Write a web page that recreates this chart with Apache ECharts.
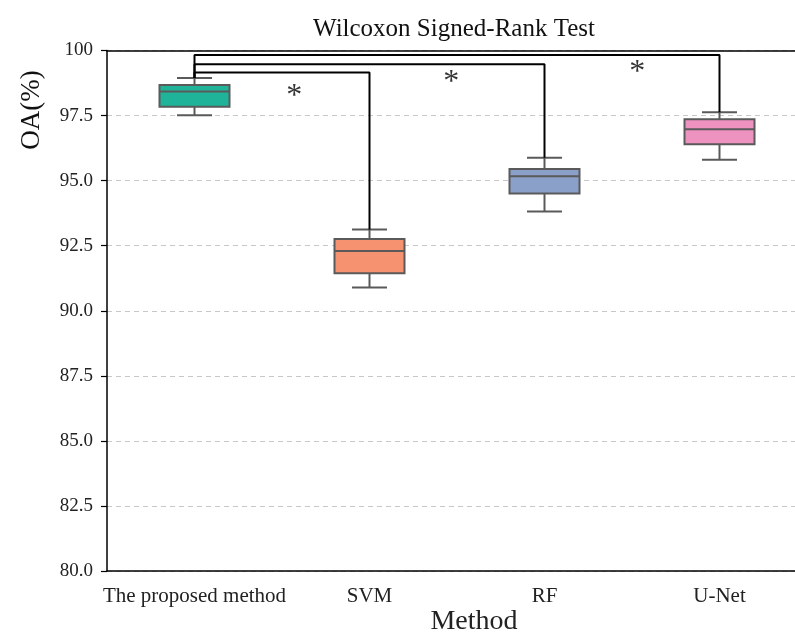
<!DOCTYPE html>
<html>
<head>
<meta charset="utf-8">
<script src="https://cdn.jsdelivr.net/npm/echarts@6/dist/echarts.min.js"></script>
<style>
  html, body { margin: 0; padding: 0; background: #fff; }
  #chart { width: 795px; height: 635px; }
</style>
</head>
<body>
<div id="chart"></div>
<script>
// Methods compared and their overall accuracy distributions (%)
const methods = ['The proposed method', 'SVM', 'RF', 'U-Net'];
const whiskerLow = [97.51, 90.89, 93.81, 95.80];
const quartile1  = [97.84, 91.44, 94.51, 96.40];
const medians    = [98.42, 92.30, 95.17, 96.97];
const quartile3  = [98.67, 92.76, 95.45, 97.36];
const whiskerHigh = [98.94, 93.12, 95.88, 97.63];
const boxColors = ['#1fb49a', '#f6926f', '#8aa0c9', '#ee92c0'];

// Significance brackets: proposed method vs. each other method
const bracketTargets = [1, 2, 3];
const bracketLevels = [99.15, 99.47, 99.83];
// Asterisk markers (category position, value)
const starX = [0.57, 1.467, 2.53];
const starY = [98.46, 98.99, 99.38];

const yTicks = { min: 80, max: 100, interval: 2.5 };
const serif = "'Liberation Serif', 'Times New Roman', serif";

const boxData = methods.map((m, i) =>
  [i, whiskerLow[i], quartile1[i], medians[i], quartile3[i], whiskerHigh[i]]);

function renderBox(params, api) {
  const i = api.value(0);
  const bw = api.size([1, 0])[0] * 0.4;
  const cx = api.coord([i, api.value(3)])[0];
  const yLow = api.coord([i, api.value(1)])[1];
  const yQ1 = api.coord([i, api.value(2)])[1];
  const yMed = api.coord([i, api.value(3)])[1];
  const yQ3 = api.coord([i, api.value(4)])[1];
  const yHigh = api.coord([i, api.value(5)])[1];
  const edge = { stroke: '#5a5a5a', lineWidth: 2 };
  const cap = bw / 4;
  return {
    type: 'group',
    children: [
      { type: 'line', shape: { x1: cx, y1: yQ3, x2: cx, y2: yHigh }, style: edge },
      { type: 'line', shape: { x1: cx, y1: yQ1, x2: cx, y2: yLow }, style: edge },
      { type: 'line', shape: { x1: cx - cap, y1: yHigh, x2: cx + cap, y2: yHigh }, style: edge },
      { type: 'line', shape: { x1: cx - cap, y1: yLow, x2: cx + cap, y2: yLow }, style: edge },
      { type: 'rect', shape: { x: cx - bw / 2, y: yQ3, width: bw, height: yQ1 - yQ3 },
        style: { fill: boxColors[i], stroke: '#5a5a5a', lineWidth: 2 } },
      { type: 'line', shape: { x1: cx - bw / 2, y1: yMed, x2: cx + bw / 2, y2: yMed }, style: edge }
    ]
  };
}

const bracketSeries = bracketTargets.map((t, k) => ({
  type: 'line',
  xAxisIndex: 1,
  symbol: 'none',
  silent: true,
  z: 5,
  lineStyle: { color: '#000', width: 2 },
  data: [[0, whiskerHigh[0]], [0, bracketLevels[k]], [t, bracketLevels[k]], [t, whiskerHigh[t]]]
}));

const chart = echarts.init(document.getElementById('chart'), null, { renderer: 'canvas' });
chart.setOption({
  backgroundColor: '#fff',
  animation: false,
  title: {
    text: 'Wilcoxon Signed-Rank Test',
    left: 449, top: 12, textAlign: 'center',
    textStyle: { fontFamily: serif, fontSize: 25, fontWeight: 'normal', color: '#111' }
  },
  grid: { left: 107, top: 50.5, width: 700, height: 520.5, outerBoundsMode: 'none', containLabel: false },
  xAxis: [
    {
      type: 'category',
      data: methods,
      boundaryGap: true,
      axisLine: { lineStyle: { color: '#000', width: 1.5 } },
      axisTick: { alignWithLabel: true, length: 6, lineStyle: { color: '#000', width: 1.2 } },
      axisLabel: { fontFamily: serif, fontSize: 21, color: '#222', margin: 15, interval: 0,
                   hideOverlap: false },
      splitLine: { show: false }
    },
    {
      type: 'value',
      position: 'top',
      min: -0.5, max: 3.5,
      axisLine: { show: true, onZero: false, lineStyle: { color: '#000', width: 1.5 } },
      axisTick: { show: false },
      axisLabel: { show: false },
      splitLine: { show: false }
    }
  ],
  yAxis: {
    type: 'value',
    min: yTicks.min, max: yTicks.max, interval: yTicks.interval,
    axisLine: { show: true, onZero: false, lineStyle: { color: '#000', width: 1.5 } },
    axisTick: { show: true, length: 6, lineStyle: { color: '#000', width: 1.2 } },
    axisLabel: {
      fontFamily: serif, fontSize: 19, color: '#222', margin: 14,
      formatter: v => (v === 100 ? '100' : v.toFixed(1))
    },
    splitLine: { show: true, lineStyle: { color: '#c8c8c8', type: [5, 4], width: 1 } }
  },
  graphic: [
    { type: 'text', x: 32, y: 110, rotation: Math.PI / 2,
      style: { text: 'OA(%)', font: '27px ' + serif, fill: '#111',
               textAlign: 'center', textVerticalAlign: 'middle' } },
    { type: 'text', x: 474, y: 622,
      style: { text: 'Method', font: '28px ' + serif, fill: '#222',
               textAlign: 'center', textVerticalAlign: 'middle' } }
  ],
  series: [
    { type: 'custom', xAxisIndex: 0, renderItem: renderBox, data: boxData, z: 3,
      encode: { x: 0, y: [1, 2, 3, 4, 5] } },
    ...bracketSeries,
    {
      type: 'scatter', xAxisIndex: 1, symbolSize: 1, itemStyle: { color: 'rgba(0,0,0,0)' },
      z: 6,
      data: starX.map((x, i) => [x, starY[i]]),
      label: { show: true, formatter: '*', position: 'inside', offset: [0, 6],
               fontFamily: serif, fontSize: 32, color: '#000' }
    }
  ]
});
</script>
</body>
</html>
